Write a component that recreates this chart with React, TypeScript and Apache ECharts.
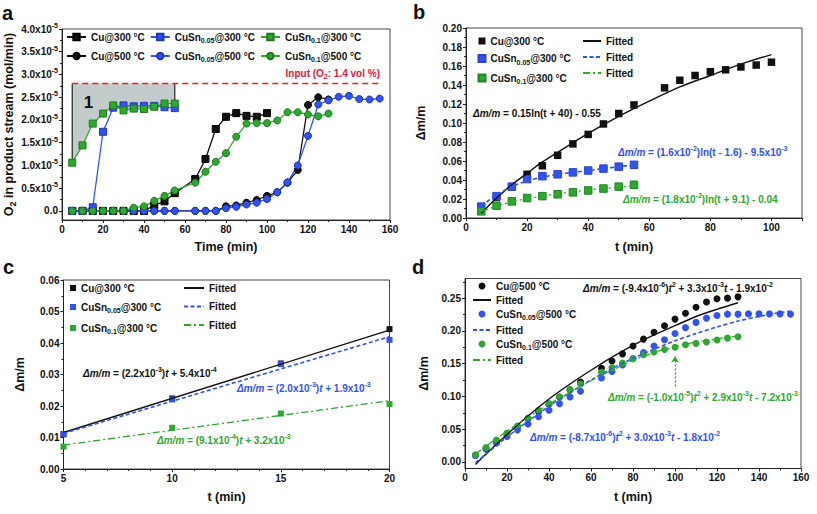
import React, { useEffect, useRef } from 'react';
import * as echarts from 'echarts';

const F = '"Liberation Sans", Arial, Helvetica, sans-serif';
const BLACK = '#111111';
const BLUE = '#3352f2';
const GREEN = '#2fa82f';
const RED = '#e0203c';
const GREY_FILL = '#c3cbcb';
const AXIS = '#222222';

// ---------- Panel a: O2 in product stream (x10^-5 mol/min) vs time (min)
const A_T_CU300 = [5, 10, 15, 20, 25, 30, 35, 40, 45, 50, 55, 65, 70, 75, 80, 85, 90, 95, 100];
const A_CU300 = [0, 0, 0, 0, 0, 0, 0, 0, 0.12, 0.21, 0.39, 0.7, 1.14, 1.8, 2.07, 2.15, 2.09, 2.07, 2.15];
const A_T_300 = [5, 10, 15, 20, 25, 30, 35, 40, 45, 50, 55];
const A_SN005_300 = [0, 0, 0.08, 1.74, 2.27, 2.32, 2.3, 2.31, 2.31, 2.28, 2.26];
const A_SN01_300 = [1.06, 1.44, 1.92, 2.14, 2.32, 2.21, 2.25, 2.24, 2.29, 2.36, 2.36];
const A_T_500_130 = [5, 10, 15, 20, 25, 30, 35, 40, 45, 50, 55, 65, 70, 75, 80, 85, 90, 95, 100, 105, 110, 115, 120, 125, 130];
const A_CU500 = [0, 0, 0, 0, 0, 0, 0, 0, 0, 0, 0, 0, 0, 0, 0.1, 0.12, 0.18, 0.24, 0.33, 0.41, 0.62, 0.9, 2.33, 2.5, 2.45];
const A_SN01_500 = [0, 0, 0, 0, 0, 0, 0.07, 0.1, 0.22, 0.33, 0.45, 0.62, 0.86, 1.08, 1.27, 1.63, 1.92, 1.93, 1.93, 1.99, 2.17, 2.17, 2.12, 2.08, 2.14];
const A_T_500_155 = [5, 10, 15, 20, 25, 30, 35, 40, 45, 50, 55, 65, 70, 75, 80, 85, 90, 95, 100, 105, 110, 115, 120, 125, 130, 135, 140, 145, 150, 155];
const A_SN005_500 = [0, 0, 0, 0, 0, 0, 0, 0, 0, 0, 0, 0, 0, 0, 0.06, 0.09, 0.14, 0.18, 0.26, 0.41, 0.63, 1.0, 1.65, 2.34, 2.43, 2.51, 2.53, 2.46, 2.45, 2.47];
const A_INPUT = 2.8;
const A_INPUT_T = [5, 156];
const A_Y_TICKS = [0, 0.5, 1, 1.5, 2, 2.5, 3, 3.5, 4];
const A_Y_MINOR = [0.25, 0.75, 1.25, 1.75, 2.25, 2.75, 3.25, 3.75];

// ---------- Panel b: Δm/m vs t, 300 °C
const B_T = [5, 10, 15, 20, 25, 30, 35, 40, 45, 50, 55, 65, 70, 75, 80, 85, 90, 95, 100];
const B_CU = [0.011, 0.022, 0.033, 0.046, 0.055, 0.066, 0.078, 0.088, 0.099, 0.11, 0.119, 0.137, 0.145, 0.15, 0.154, 0.156, 0.159, 0.161, 0.164];
const B_T55 = [5, 10, 15, 20, 25, 30, 35, 40, 45, 50, 55];
const B_SN005 = [0.012, 0.023, 0.033, 0.041, 0.044, 0.046, 0.048, 0.05, 0.052, 0.054, 0.056];
const B_SN01 = [0.007, 0.013, 0.0175, 0.021, 0.023, 0.025, 0.027, 0.029, 0.031, 0.033, 0.035];
const B_FIT_T = [5, 10, 15, 20, 25, 30, 40, 50, 60, 70, 80, 90, 100];
const B_FIT_CU = [0.005, 0.021, 0.035, 0.047, 0.059, 0.069, 0.089, 0.107, 0.123, 0.138, 0.15, 0.162, 0.172];
const B_FIT_SN005 = [0.013, 0.024, 0.033, 0.039, 0.043, 0.046, 0.048, 0.05, 0.052, 0.054, 0.056];
const B_FIT_SN01 = [0.007, 0.0125, 0.017, 0.0205, 0.023, 0.0255, 0.0275, 0.0295, 0.031, 0.0325, 0.034];

// ---------- Panel c: Δm/m vs t, 5-20 min
const C_T = [5, 10, 15, 20];
const C_CU = [0.011, 0.0224, 0.0335, 0.0444];
const C_SN005 = [0.0111, 0.0221, 0.0333, 0.041];
const C_SN01 = [0.0071, 0.0131, 0.0176, 0.0206];
const C_FIT_T = [5, 20];
const C_FIT_CU = [0.0116, 0.0441];
const C_FIT_SN005 = [0.0113, 0.042];
const C_FIT_SN01 = [0.0076, 0.0217];

// ---------- Panel d: Δm/m vs t, 500 °C
const D_T130 = [5, 10, 15, 20, 25, 30, 35, 40, 45, 50, 55, 65, 70, 75, 80, 85, 90, 95, 100, 105, 110, 115, 120, 125, 130];
const D_T155 = [5, 10, 15, 20, 25, 30, 35, 40, 45, 50, 55, 65, 70, 75, 80, 85, 90, 95, 100, 105, 110, 115, 120, 125, 130, 135, 140, 145, 150, 155];
const D_CU = [0.01, 0.02, 0.03, 0.042, 0.054, 0.066, 0.077, 0.088, 0.099, 0.11, 0.122, 0.143, 0.154, 0.165, 0.177, 0.1875, 0.198, 0.208, 0.218, 0.227, 0.236, 0.244, 0.249, 0.25, 0.252];
const D_SN005 = [0.01, 0.02, 0.029, 0.039, 0.049, 0.058, 0.069, 0.079, 0.089, 0.099, 0.108, 0.128, 0.138, 0.148, 0.158, 0.167, 0.177, 0.1865, 0.196, 0.205, 0.213, 0.2195, 0.2236, 0.2256, 0.2256, 0.226, 0.226, 0.226, 0.226, 0.2256];
const D_SN01 = [0.011, 0.022, 0.0335, 0.044, 0.055, 0.067, 0.079, 0.089, 0.099, 0.11, 0.119, 0.137, 0.144, 0.151, 0.1575, 0.1636, 0.1677, 0.1717, 0.175, 0.179, 0.181, 0.183, 0.186, 0.189, 0.191];
const D_FIT_T130 = [5, 10, 20, 30, 40, 50, 60, 70, 80, 90, 100, 110, 120, 130];
const D_FIT_CU = [-0.004, 0.012, 0.042, 0.07, 0.096, 0.119, 0.14, 0.16, 0.178, 0.194, 0.208, 0.222, 0.233, 0.243];
const D_FIT_T155 = [5, 10, 20, 30, 40, 50, 60, 70, 80, 90, 100, 110, 120, 130, 140, 150, 155];
const D_FIT_SN005 = [-0.001, 0.012, 0.038, 0.062, 0.085, 0.106, 0.125, 0.143, 0.158, 0.172, 0.185, 0.196, 0.206, 0.215, 0.222, 0.228, 0.23];
const D_FIT_SN01 = [0.012, 0.024, 0.047, 0.068, 0.088, 0.106, 0.124, 0.14, 0.155, 0.167, 0.176, 0.183, 0.188, 0.192];
const D_ARROW_T = 100;
const D_ARROW_V = [0.115, 0.161];
const D_Y_TICKS = [0, 0.05, 0.1, 0.15, 0.2, 0.25];
const D_Y_MINOR = [0.025, 0.075, 0.125, 0.175, 0.225, 0.275];

const zip = (t: number[], v: number[]) => t.map((x, i) => [x, v[i]]);

const RICH: any = {
  n: { fontFamily: F, fontWeight: 'bold', fontSize: 10, lineHeight: 14 },
  i: { fontFamily: F, fontWeight: 'bold', fontStyle: 'italic', fontSize: 10, lineHeight: 14 },
  sub: { fontFamily: F, fontWeight: 'bold', fontSize: 7, lineHeight: 7, verticalAlign: 'bottom' },
  sup: { fontFamily: F, fontWeight: 'bold', fontSize: 7, lineHeight: 7, verticalAlign: 'top' },
  N: { fontFamily: F, fontWeight: 'bold', fontSize: 12.5, lineHeight: 16 },
  S: { fontFamily: F, fontWeight: 'bold', fontSize: 9, lineHeight: 8, verticalAlign: 'bottom' },
};

const LABELS: Record<string, string> = {
  'a:Cu300': '{n|Cu@300 °C}',
  'a:Sn005_300': '{n|CuSn}{sub|0.05}{n|@300 °C}',
  'a:Sn01_300': '{n|CuSn}{sub|0.1}{n|@300 °C}',
  'a:Cu500': '{n|Cu@500 °C}',
  'a:Sn005_500': '{n|CuSn}{sub|0.05}{n|@500 °C}',
  'a:Sn01_500': '{n|CuSn}{sub|0.1}{n|@500 °C}',
  'b:Cu': '{n|Cu@300 °C}',
  'b:Sn005': '{n|CuSn}{sub|0.05}{n|@300 °C}',
  'b:Sn01': '{n|CuSn}{sub|0.1}{n|@300 °C}',
  'b:fitCu': '{n|Fitted}',
  'b:fitSn005': '{n|Fitted}',
  'b:fitSn01': '{n|Fitted}',
  'c:Cu': '{n|Cu@300 °C}',
  'c:Sn005': '{n|CuSn}{sub|0.05}{n|@300 °C}',
  'c:Sn01': '{n|CuSn}{sub|0.1}{n|@300 °C}',
  'c:fitCu': '{n|Fitted}',
  'c:fitSn005': '{n|Fitted}',
  'c:fitSn01': '{n|Fitted}',
  'd:Cu': '{n|Cu@500 °C}',
  'd:fitCu': '{n|Fitted}',
  'd:Sn005': '{n|CuSn}{sub|0.05}{n|@500 °C}',
  'd:fitSn005': '{n|Fitted}',
  'd:Sn01': '{n|CuSn}{sub|0.1}{n|@500 °C}',
  'd:fitSn01': '{n|Fitted}',
};

const DASH_BLUE = [4, 2.5];
const DASH_GREEN = [7, 3, 2, 3];

function xAxis(gridIndex: number, min: number, max: number, interval: number, name: string, nameGap: number, minorSplit: number, extraLabel: any = {}) {
  return {
    gridIndex, type: 'value', min, max, interval,
    name, nameLocation: 'middle', nameGap,
    nameTextStyle: { fontFamily: F, fontWeight: 'bold', fontSize: 12.5, color: BLACK },
    axisLine: { show: true, onZero: false, lineStyle: { color: AXIS, width: 1 } },
    axisTick: { show: true, length: 3, lineStyle: { color: AXIS } },
    minorTick: { show: true, splitNumber: minorSplit, length: 2, lineStyle: { color: AXIS } },
    splitLine: { show: false },
    minorSplitLine: { show: false },
    axisLabel: { fontFamily: F, fontWeight: 'bold', fontSize: 10, color: BLACK, margin: 4, ...extraLabel },
  };
}

function yAxis(gridIndex: number, min: number, max: number, opts: any) {
  return {
    gridIndex, type: 'value', min, max, position: 'left',
    nameLocation: 'middle',
    nameTextStyle: { fontFamily: F, fontWeight: 'bold', fontSize: 12.5, color: BLACK, rich: RICH },
    axisLine: { show: true, onZero: false, lineStyle: { color: AXIS, width: 1 } },
    axisTick: { show: true, length: 3, lineStyle: { color: AXIS } },
    minorTick: { show: true, splitNumber: 2, length: 2, lineStyle: { color: AXIS } },
    splitLine: { show: false },
    minorSplitLine: { show: false },
    ...opts,
    axisLabel: { fontFamily: F, fontWeight: 'bold', fontSize: 10, color: BLACK, margin: 4, rich: RICH, ...(opts.axisLabel || {}) },
  };
}

function minorAxis(gridIndex: number, min: number, max: number, values: number[]) {
  return {
    gridIndex, type: 'value', min, max, position: 'left', offset: 0,
    axisLine: { show: false },
    axisLabel: { show: false },
    axisTick: { show: true, length: 2, customValues: values, lineStyle: { color: AXIS } },
    splitLine: { show: false },
  };
}

function aLine(name: string, t: number[], v: number[], color: string, border: string, symbol: string) {
  return {
    type: 'line', name, xAxisIndex: 0, yAxisIndex: 0, data: zip(t, v),
    symbol, symbolSize: 7, showSymbol: true,
    lineStyle: { color, width: 1.3 },
    itemStyle: { color, borderColor: border, borderWidth: 1 },
    z: 3,
  };
}

function scatter(name: string, axis: number, t: number[], v: number[], color: string, symbol: string, size: number, border?: string) {
  return {
    type: 'scatter', name, xAxisIndex: axis, yAxisIndex: axis, data: zip(t, v),
    symbol, symbolSize: size,
    itemStyle: border ? { color, borderColor: border, borderWidth: 1, opacity: 1 } : { color, opacity: 1 },
    z: 3,
  };
}

function fit(name: string, axis: number, t: number[], v: number[], color: string, type: any, width: number, smooth: number) {
  return {
    type: 'line', name, xAxisIndex: axis, yAxisIndex: axis, data: zip(t, v),
    symbol: 'none', smooth,
    itemStyle: { color },
    lineStyle: { color, type, width },
    z: 4,
  };
}

function txt(x: number, y: number, text: string, fill: string, fontSize = 10, align = 'left') {
  return {
    type: 'text', x, y, silent: true, z: 10,
    style: { text, fill, fontFamily: F, fontWeight: 'bold', fontSize, align, verticalAlign: 'middle', rich: RICH },
  };
}

// names containing ":fit" are line-only legend entries (no symbol)
function legend(left: number, top: number, names: string[], orient: string, itemGap: number, itemWidth: number, itemHeight: number) {
  return {
    left, top, orient, itemGap, itemWidth, itemHeight, padding: 0,
    selectedMode: false,
    data: names.map((n) => (n.indexOf(':fit') > 0 ? { name: n, itemStyle: { opacity: 0 } } : n)),
    formatter: (n: string) => LABELS[n],
    textStyle: { fontFamily: F, fontWeight: 'bold', fontSize: 10, color: BLACK, rich: RICH },
  };
}

const EQ = {
  b1: '{i|Δm/m}{n| = 0.15ln(t + 40) - 0.55}',
  b2: '{i|Δm/m}{n| = (1.6x10}{sup|-2}{n|)ln(t - 1.6) - 9.5x10}{sup|-3}',
  b3: '{i|Δm/m}{n| = (1.8x10}{sup|-2}{n|)ln(t + 9.1) - 0.04}',
  c1: '{i|Δm/m}{n| = (2.2x10}{sup|-3}{n|)}{i|t}{n| + 5.4x10}{sup|-4}',
  c2: '{i|Δm/m}{n| = (2.0x10}{sup|-3}{n|)}{i|t}{n| + 1.9x10}{sup|-3}',
  c3: '{i|Δm/m}{n| = (9.1x10}{sup|-4}{n|)}{i|t}{n| + 3.2x10}{sup|-3}',
  d1: '{i|Δm/m}{n| = (-9.4x10}{sup|-6}{n|)}{i|t}{sup|2}{n| + 3.3x10}{sup|-3}{i|t}{n| - 1.9x10}{sup|-2}',
  d2: '{i|Δm/m}{n| = (-1.0x10}{sup|-5}{n|)}{i|t}{sup|2}{n| + 2.9x10}{sup|-3}{i|t}{n| - 7.2x10}{sup|-3}',
  d3: '{i|Δm/m}{n| = (-8.7x10}{sup|-6}{n|)}{i|t}{sup|2}{n| + 3.0x10}{sup|-3}{i|t}{n| - 1.8x10}{sup|-2}',
};

function buildOption() {
  const gridBase = { show: true, borderColor: '#444', borderWidth: 1, containLabel: false, outerBoundsMode: 'none' };
  const series: any[] = [
    // panel a
    {
      type: 'custom', name: 'a:area', xAxisIndex: 0, yAxisIndex: 0, silent: true, z: 1,
      data: [[A_T_300[0], A_SN01_300[0]]],
      renderItem: (_p: any, api: any) => {
        const t0 = A_T_300[0];
        const t1 = A_T_300[A_T_300.length - 1];
        const top = [api.coord([t0, A_INPUT]), api.coord([t1, A_INPUT])];
        const bottom = A_T_300.map((t, i) => api.coord([t, A_SN01_300[i]])).reverse();
        const first = bottom[bottom.length - 1];
        const last = bottom[0];
        return {
          type: 'group',
          children: [
            { type: 'polygon', shape: { points: [...top, ...bottom] }, style: { fill: GREY_FILL } },
            { type: 'line', shape: { x1: top[0][0], y1: top[0][1], x2: first[0], y2: first[1] }, style: { stroke: '#333', lineWidth: 1.3 } },
            { type: 'line', shape: { x1: top[1][0], y1: top[1][1], x2: last[0], y2: last[1] }, style: { stroke: '#333', lineWidth: 1.3 } },
          ],
        };
      },
    },
    {
      type: 'line', name: 'a:input', xAxisIndex: 0, yAxisIndex: 0,
      data: A_INPUT_T.map((t) => [t, A_INPUT]), symbol: 'none',
      lineStyle: { color: RED, type: [6, 4], width: 1.6 }, z: 2,
    },
    aLine('a:Cu300', A_T_CU300, A_CU300, BLACK, '#000', 'rect'),
    aLine('a:Sn005_300', A_T_300, A_SN005_300, BLUE, '#1f35c0', 'rect'),
    aLine('a:Sn01_300', A_T_300, A_SN01_300, GREEN, '#1c7a1c', 'rect'),
    aLine('a:Cu500', A_T_500_130, A_CU500, BLACK, '#000', 'circle'),
    aLine('a:Sn005_500', A_T_500_155, A_SN005_500, BLUE, '#1f35c0', 'circle'),
    aLine('a:Sn01_500', A_T_500_130, A_SN01_500, GREEN, '#1c7a1c', 'circle'),
    // panel b
    scatter('b:Cu', 1, B_T, B_CU, BLACK, 'rect', 7.5),
    scatter('b:Sn005', 1, B_T55, B_SN005, BLUE, 'rect', 7.5, '#2a44d0'),
    scatter('b:Sn01', 1, B_T55, B_SN01, GREEN, 'rect', 7.5, '#1f861f'),
    fit('b:fitCu', 1, B_FIT_T, B_FIT_CU, BLACK, 'solid', 1.4, 0.3),
    fit('b:fitSn005', 1, B_T55, B_FIT_SN005, BLUE, DASH_BLUE, 1.6, 0.3),
    fit('b:fitSn01', 1, B_T55, B_FIT_SN01, GREEN, DASH_GREEN, 1.3, 0.3),
    // panel c
    scatter('c:Cu', 2, C_T, C_CU, BLACK, 'rect', 6),
    scatter('c:Sn005', 2, C_T, C_SN005, BLUE, 'rect', 6),
    scatter('c:Sn01', 2, C_T, C_SN01, GREEN, 'rect', 6),
    fit('c:fitCu', 2, C_FIT_T, C_FIT_CU, BLACK, 'solid', 1.4, 0),
    fit('c:fitSn005', 2, C_FIT_T, C_FIT_SN005, BLUE, DASH_BLUE, 1.6, 0),
    fit('c:fitSn01', 2, C_FIT_T, C_FIT_SN01, GREEN, DASH_GREEN, 1.3, 0),
    // panel d
    scatter('d:Cu', 3, D_T130, D_CU, BLACK, 'circle', 7),
    scatter('d:Sn005', 3, D_T155, D_SN005, BLUE, 'circle', 7),
    scatter('d:Sn01', 3, D_T130, D_SN01, GREEN, 'circle', 7),
    fit('d:fitCu', 3, D_FIT_T130, D_FIT_CU, BLACK, 'solid', 1.4, 0.3),
    fit('d:fitSn005', 3, D_FIT_T155, D_FIT_SN005, BLUE, DASH_BLUE, 1.6, 0.3),
    {
      ...fit('d:fitSn01', 3, D_FIT_T130, D_FIT_SN01, GREEN, DASH_GREEN, 1.3, 0.3),
      markLine: {
        silent: true, symbol: ['none', 'arrow'], symbolSize: 6, animation: false,
        label: { show: false },
        lineStyle: { color: GREEN, type: [2, 2], width: 1.3 },
        data: [[{ coord: [D_ARROW_T, D_ARROW_V[0]] }, { coord: [D_ARROW_T, D_ARROW_V[1]] }]],
      },
    },
  ];

  return {
    animation: false,
    backgroundColor: '#ffffff',
    grid: [
      { ...gridBase, left: 62, top: 29, width: 328, height: 191 },
      { ...gridBase, left: 466, top: 28, width: 336, height: 190 },
      { ...gridBase, left: 63.5, top: 280, width: 326, height: 189 },
      { ...gridBase, left: 465, top: 278.5, width: 336, height: 190 },
    ],
    xAxis: [
      xAxis(0, 0, 160, 20, 'Time (min)', 20, 2),
      xAxis(1, 0, 110, 20, 't (min)', 22, 2, { showMaxLabel: false }),
      xAxis(2, 5, 20, 5, 't (min)', 21, 5),
      xAxis(3, 0, 160, 20, 't (min)', 21.5, 2),
    ],
    yAxis: [
      yAxis(0, -0.2, 4.0, {
        name: '{N|O}{S|2}{N| in product stream (mol/min)}', nameGap: 43,
        minorTick: { show: false },
        axisTick: { show: true, length: 3, customValues: A_Y_TICKS, lineStyle: { color: AXIS } },
        axisLabel: { customValues: A_Y_TICKS, formatter: (v: number) => (v === 0 ? '0.0' : `{n|${v.toFixed(1)}x10}{sup|-5}`) },
      }),
      yAxis(1, 0, 0.2, {
        interval: 0.02, name: '{N|Δm/m}', nameGap: 37,
        axisLabel: { formatter: (v: number) => v.toFixed(2) },
      }),
      yAxis(2, 0, 0.06, {
        interval: 0.01, name: '{N|Δm/m}', nameGap: 36,
        axisLabel: { formatter: (v: number) => v.toFixed(2) },
      }),
      yAxis(3, -0.01, 0.28, {
        name: '{N|Δm/m}', nameGap: 33,
        minorTick: { show: false },
        axisTick: { show: true, length: 3, customValues: D_Y_TICKS, lineStyle: { color: AXIS } },
        axisLabel: { customValues: D_Y_TICKS, formatter: (v: number) => v.toFixed(2) },
      }),
      minorAxis(0, -0.2, 4.0, A_Y_MINOR),
      minorAxis(3, -0.01, 0.28, D_Y_MINOR),
    ],
    legend: [
      legend(66, 32, ['a:Cu300', 'a:Sn005_300', 'a:Sn01_300'], 'horizontal', 5, 19, 8),
      legend(66, 51, ['a:Cu500', 'a:Sn005_500', 'a:Sn01_500'], 'horizontal', 5, 19, 8),
      legend(477.5, 36, ['b:Cu', 'b:Sn005', 'b:Sn01'], 'vertical', 7.5, 7, 7),
      legend(582, 36, ['b:fitCu', 'b:fitSn005', 'b:fitSn01'], 'vertical', 6, 18, 7),
      legend(70, 283, ['c:Cu', 'c:Sn005', 'c:Sn01'], 'vertical', 9, 6, 6),
      legend(183, 283, ['c:fitCu', 'c:fitSn005', 'c:fitSn01'], 'vertical', 8.5, 20, 7),
      legend(472, 281, ['d:Cu', 'd:fitCu', 'd:Sn005', 'd:fitSn005', 'd:Sn01', 'd:fitSn01'], 'vertical', 4, 18, 7),
    ],
    graphic: [
      txt(2, 13, 'a', BLACK, 20),
      txt(413, 12, 'b', BLACK, 20),
      txt(3, 267, 'c', BLACK, 20),
      txt(412, 267, 'd', BLACK, 20),
      txt(88.5, 102, '1', BLACK, 17, 'center'),
      txt(380, 73, '{n|Input (O}{sub|2}{n|: 1.4 vol %)}', RED, 10, 'right'),
      txt(473, 113, EQ.b1, BLACK),
      txt(618, 152, EQ.b2, BLUE),
      txt(623, 199, EQ.b3, GREEN),
      txt(83, 373, EQ.c1, BLACK),
      txt(237, 388, EQ.c2, BLUE),
      txt(157, 440, EQ.c3, GREEN),
      txt(583, 288, EQ.d1, BLACK),
      txt(608, 397, EQ.d2, GREEN),
      txt(530, 437, EQ.d3, BLUE),
    ],
    series,
  };
}

export default function App() {
  const ref = useRef<HTMLDivElement>(null);
  useEffect(() => {
    if (!ref.current) return;
    const chart = echarts.init(ref.current, undefined, { renderer: 'svg' });
    chart.setOption(buildOption() as any);
    return () => chart.dispose();
  }, []);
  return (
    <div
      ref={ref}
      style={{ position: 'fixed', left: 0, top: 0, width: 817, height: 514, background: '#fff' }}
    />
  );
}
